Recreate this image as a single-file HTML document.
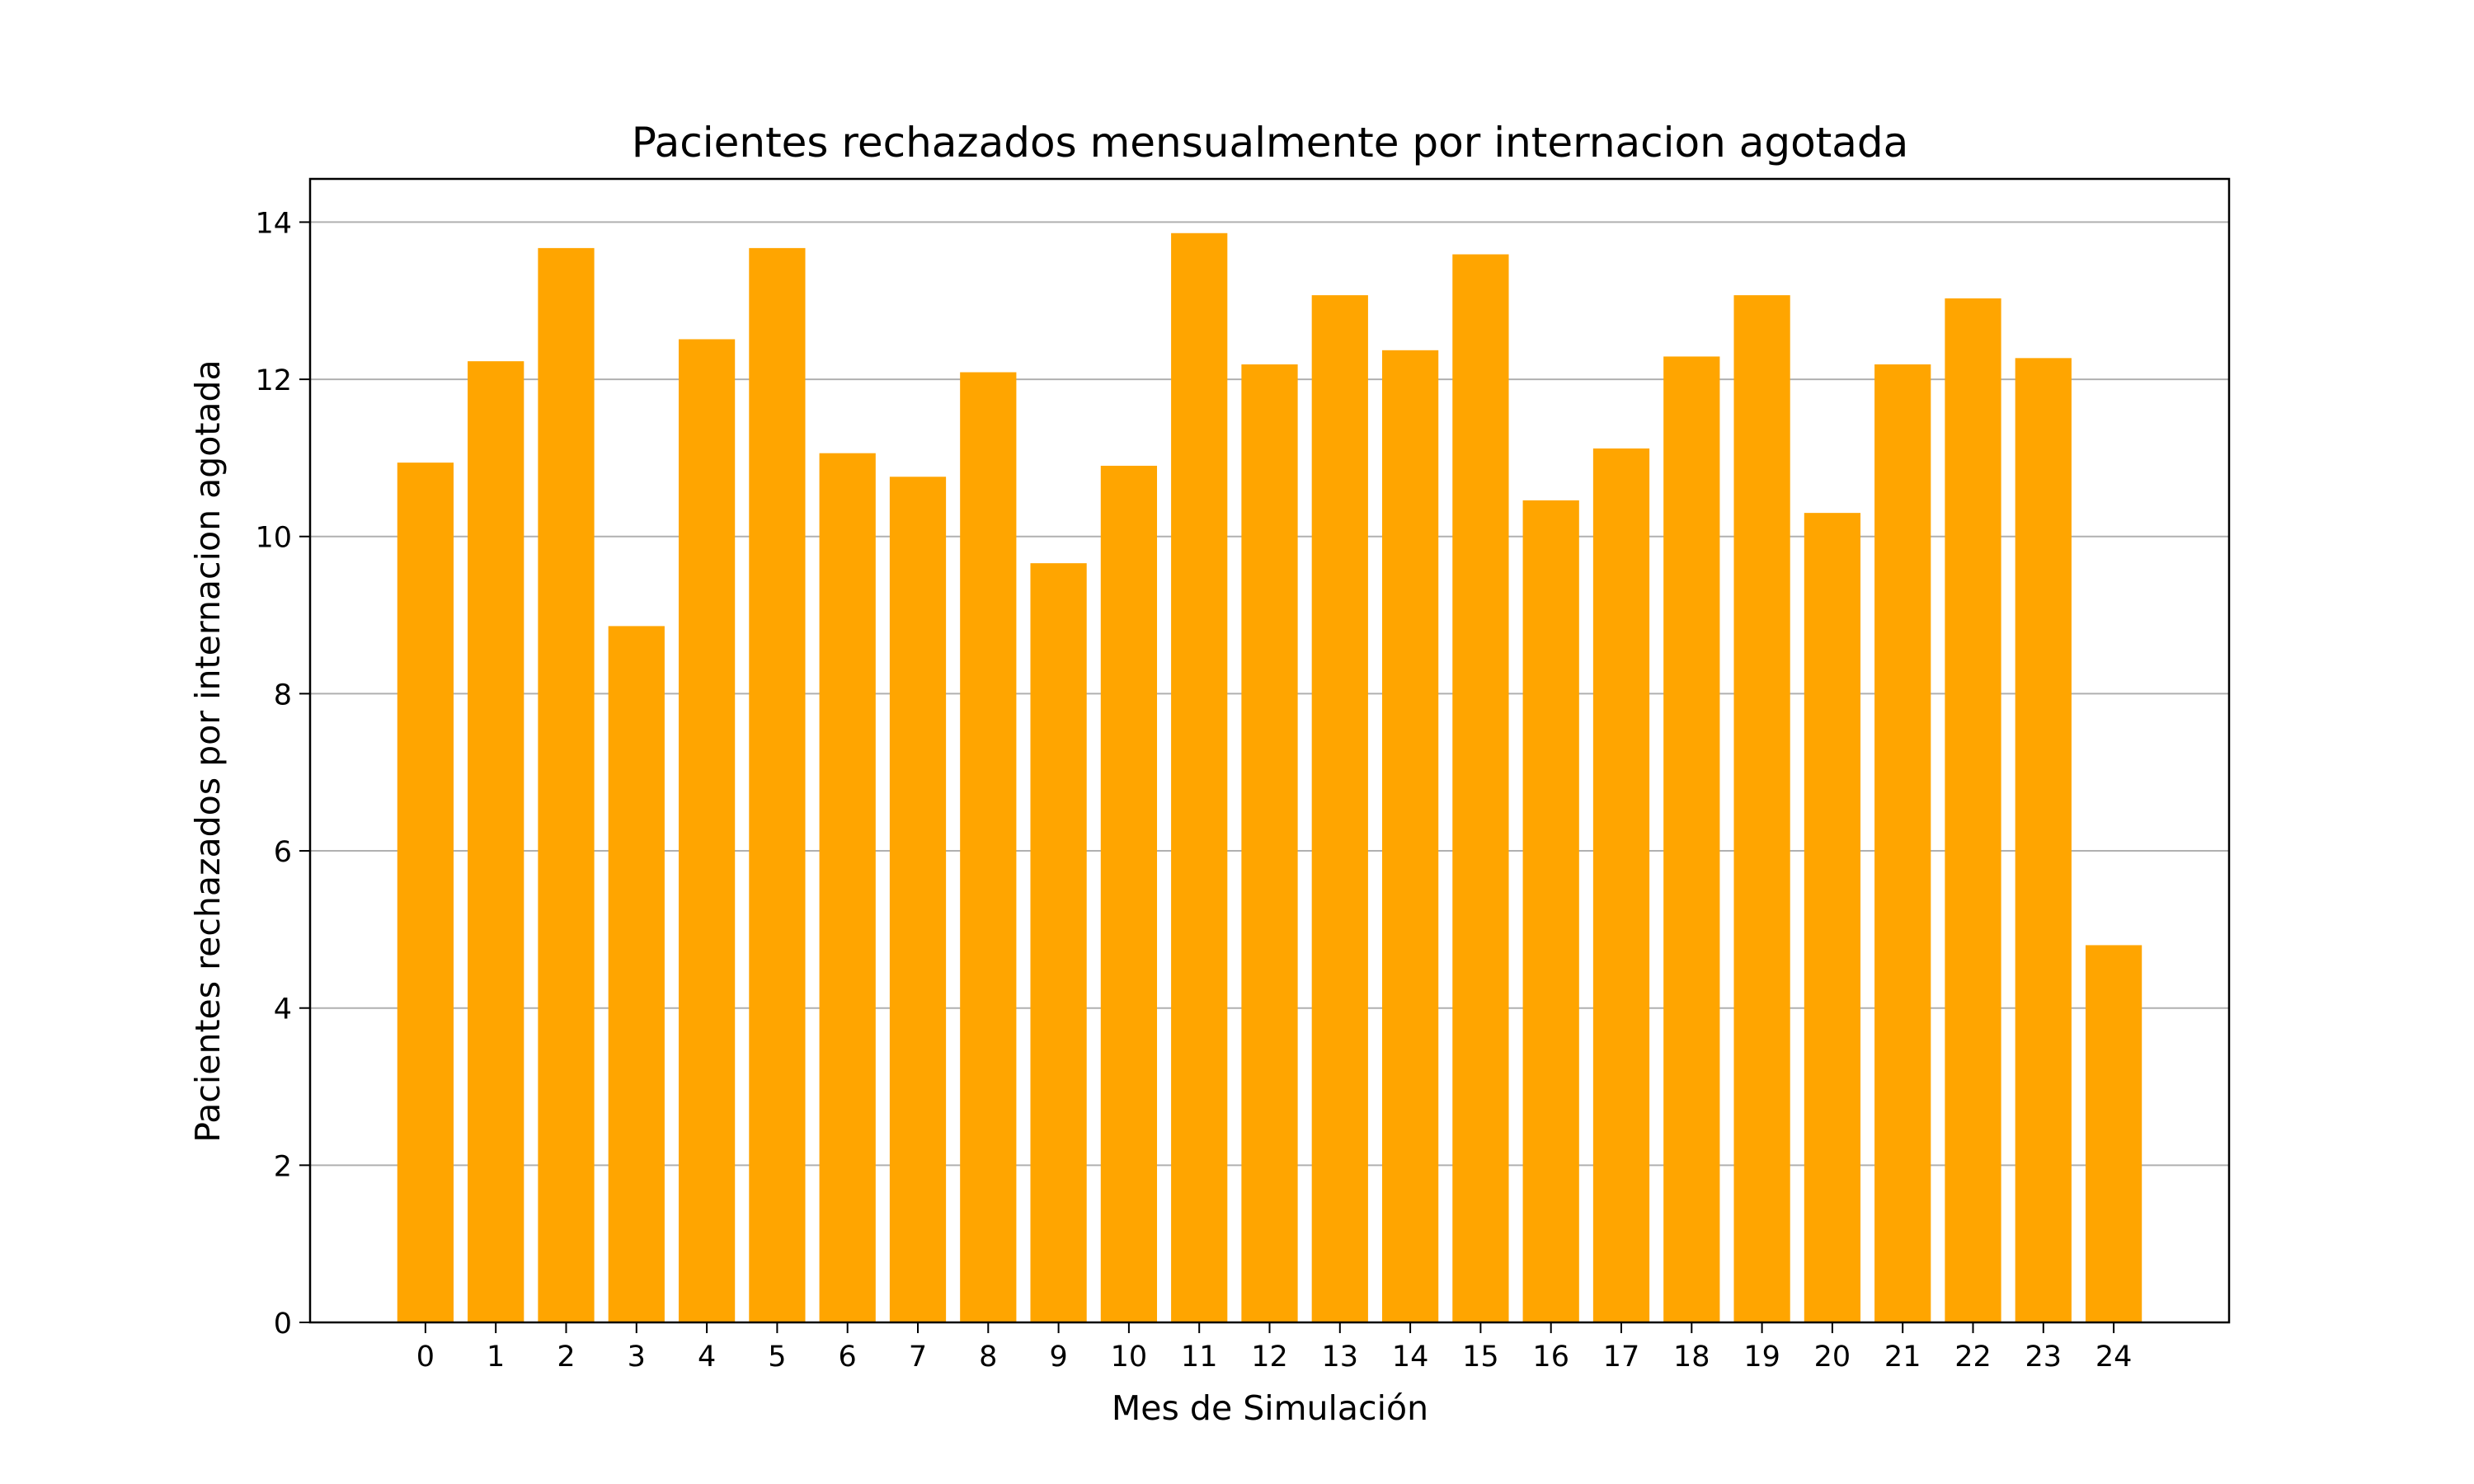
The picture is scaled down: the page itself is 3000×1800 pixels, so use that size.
<!DOCTYPE html>
<html><head><meta charset="utf-8"><style>
body{margin:0;background:#fff;}
svg{display:block;font-family:"DejaVu Sans","Liberation Sans",sans-serif;}
</style></head><body>
<svg id="chart" width="3000" height="1800" viewBox="0 0 3000 1800">
<rect width="3000" height="1800" fill="#fff"/>
<g id="grid"></g><g id="bars"></g><g id="axes"></g>
<text x="1540" y="190" font-size="50" text-anchor="middle">Pacientes rechazados mensualmente por internacion agotada</text>
<text x="1540" y="1722" font-size="41" text-anchor="middle">Mes de Simulación</text>
<text transform="translate(266,911) rotate(-90)" font-size="41" text-anchor="middle">Pacientes rechazados por internacion agotada</text>
</svg>
<script>
const categories=["0","1","2","3","4","5","6","7","8","9","10","11","12","13","14","15","16","17","18","19","20","21","22","23","24"];
const values=[10.94,12.23,13.67,8.86,12.51,13.67,11.06,10.76,12.09,9.66,10.90,13.86,12.19,13.07,12.37,13.59,10.46,11.12,12.29,13.07,10.30,12.19,13.03,12.27,4.80];
const yTicks=[0,2,4,6,8,10,12,14];
const L=376,R=2703,T=217,B=1604;
const xmin=-1.64,xmax=categories.length-1+1.64,ymin=0,ymax=14.55;
const ns="http://www.w3.org/2000/svg";
function X(i){return L+(i-xmin)/(xmax-xmin)*(R-L);}
function Y(v){return B-(v-ymin)/(ymax-ymin)*(B-T);}
function mk(tag,attrs,parent,txt){const e=document.createElementNS(ns,tag);for(const k in attrs)e.setAttribute(k,attrs[k]);if(txt!==undefined)e.textContent=txt;document.getElementById(parent).appendChild(e);return e;}
const bw=(X(1)-X(0))*0.8;
yTicks.forEach(t=>{
 const g=mk('line',{x1:L,x2:R,y1:Y(t),y2:Y(t),stroke:'#b0b0b0','stroke-width':2},'grid');
 
 
 const tk=mk('line',{x1:L-13,x2:L,y1:Y(t),y2:Y(t),stroke:'#000','stroke-width':2},'axes');
 
 
 const lb=mk('text',{x:L-22,y:Y(t)+13,'font-size':35,'text-anchor':'end'},'axes',String(t));
 
 
});
categories.forEach((c,i)=>{
 const r=mk('rect',{x:X(i)-bw/2,y:Y(values[i]),width:bw,height:Y(0)-Y(values[i]),fill:'#ffa500'},'bars');
 
 
 const tk=mk('line',{x1:X(i),x2:X(i),y1:B,y2:B+13,stroke:'#000','stroke-width':2},'axes');
 
 
 const lb=mk('text',{x:X(i),y:B+53,'font-size':35,'text-anchor':'middle'},'axes',c);
 
 
});
const f=mk('rect',{x:L,y:T,width:R-L,height:B-T,fill:'none',stroke:'#000','stroke-width':2.5},'axes');


</script>
</body></html>
